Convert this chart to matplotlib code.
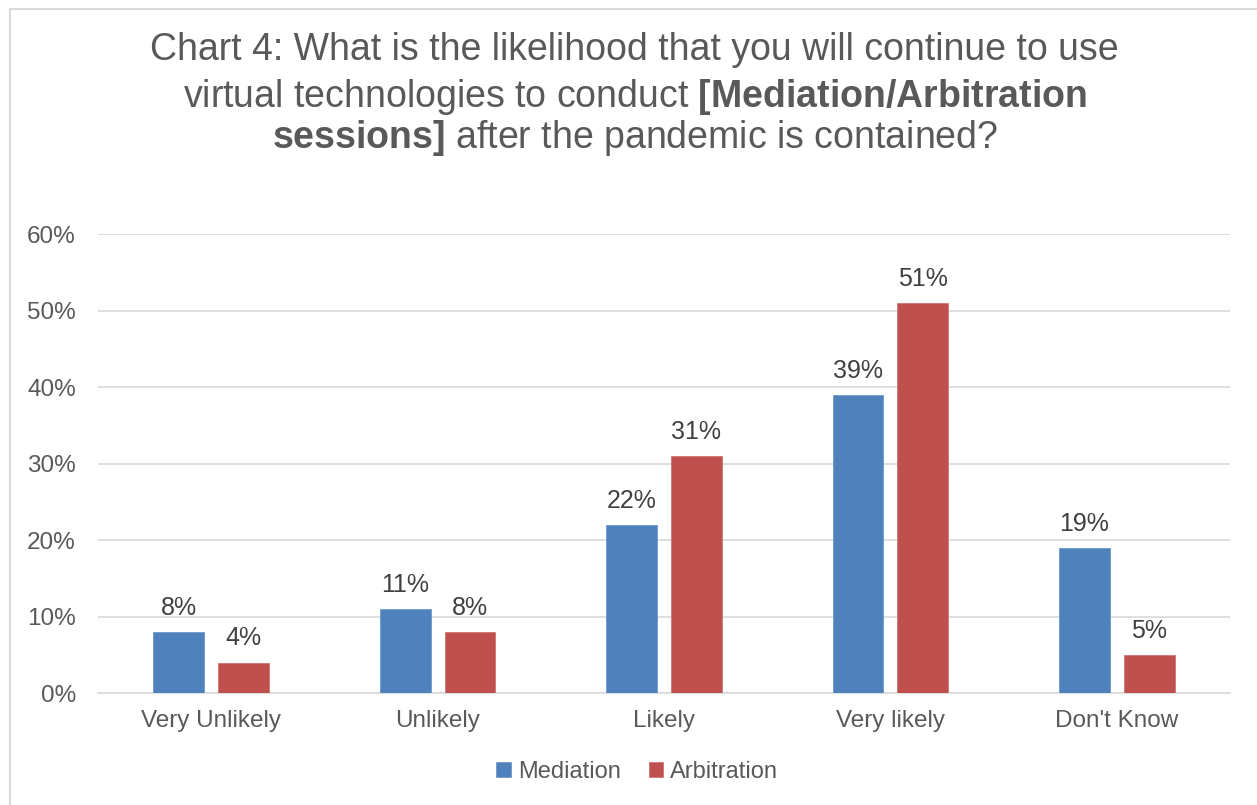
import matplotlib.pyplot as plt
import numpy as np
from matplotlib.patches import Rectangle

plt.rcParams['font.family'] = ['Liberation Sans', 'DejaVu Sans']
plt.rcParams['mathtext.fontset'] = 'custom'
plt.rcParams['mathtext.rm'] = 'Liberation Sans'
plt.rcParams['mathtext.bf'] = 'Liberation Sans:bold'

categories = ["Very Unlikely", "Unlikely", "Likely", "Very likely", "Don't Know"]
mediation = [8, 11, 22, 39, 19]
arbitration = [4, 8, 31, 51, 5]
yticks = [0, 10, 20, 30, 40, 50, 60]

blue = '#4F81BD'
red = '#C0504D'
txt = '#595959'

fig = plt.figure(figsize=(12.57, 8.05), dpi=100)
ax = fig.add_axes([0.078, 0.139, 0.9005, 0.570])

# outer chart border
fig.patches.append(Rectangle((10 / 1257, -0.1), 1.2, 1 - 9 / 805 + 0.1,
                             transform=fig.transFigure, fill=False,
                             edgecolor='#D9D9D9', lw=1.5))

x = np.arange(len(categories))
w = 0.225
off = 0.143
b1 = ax.bar(x - off, mediation, w, color=blue, edgecolor='#6F98CB', lw=0.6, label='Mediation', zorder=3)
b2 = ax.bar(x + off, arbitration, w, color=red, edgecolor='#D07573', lw=0.6, label='Arbitration', zorder=3)

for bars, vals in ((b1, mediation), (b2, arbitration)):
    for b, v in zip(bars, vals):
        ax.text(b.get_x() + b.get_width() / 2, v + 1.6, f'{v}%', ha='center', va='bottom',
                fontsize=18, color='#404040')

ax.set_xlim(-0.5, 4.5)
ax.set_ylim(0, 60)
ax.set_yticks(yticks)
ax.set_yticklabels([f'{t}%' for t in yticks])
ax.set_xticks(x)
ax.set_xticklabels(categories)
ax.tick_params(axis='both', length=0, labelsize=17.5, colors=txt)
ax.tick_params(axis='y', pad=16)
ax.tick_params(axis='x', pad=12)
ax.grid(axis='y', color='#D9D9D9', lw=1.2, zorder=0)
for s in ['top', 'right', 'left']:
    ax.spines[s].set_visible(False)
ax.spines['bottom'].set_color('#D9D9D9')
ax.spines['bottom'].set_linewidth(1.2)

fig.text(0.505, 1 - 50 / 805, 'Chart 4: What is the likelihood that you will continue to use',
         ha='center', va='center', fontsize=27, color=txt)
fig.text(0.505, 1 - 97 / 805, r'virtual technologies to conduct $\bf{[Mediation/Arbitration}$',
         ha='center', va='center', fontsize=27, color=txt)
fig.text(0.505, 1 - 138 / 805, r'$\bf{sessions]}$ after the pandemic is contained?',
         ha='center', va='center', fontsize=27, color=txt)

leg = fig.legend(handles=[b1, b2], loc='center', bbox_to_anchor=(0.507, 1 - 772 / 805),
                 ncol=2, frameon=False, fontsize=17, handlelength=0.6, handleheight=0.6,
                 handletextpad=0.3, columnspacing=1.2, labelcolor=txt)

fig.savefig('out.png', dpi=100)
